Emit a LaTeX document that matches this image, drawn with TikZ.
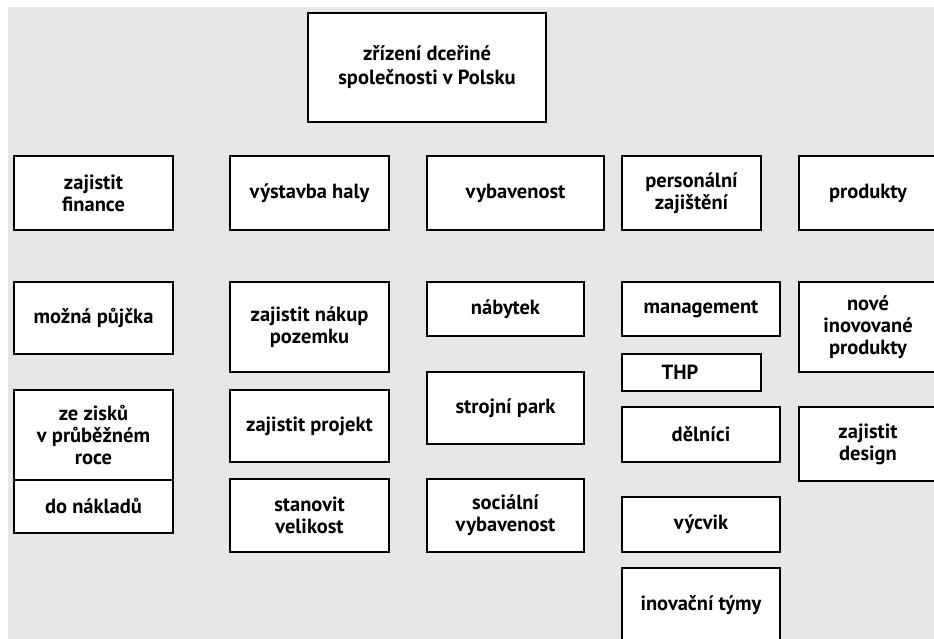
\documentclass[tikz,border=0pt]{standalone}
\usepackage{fontspec}
\setmainfont{PT Sans}
\definecolor{bggray}{RGB}{231,231,231}
\tikzset{every picture/.style={line width=0.75pt}}
\tikzset{
  box/.style={draw, fill=white, line width=2.2pt, align=center, inner sep=0pt,
    font=\fontsize{20.5}{22}\selectfont\bfseries},
}

\begin{document}
\begin{tikzpicture}[x=1pt,y=1pt,yscale=-1]
\useasboundingbox (0,0) rectangle (934,639);
\clip (0,0) rectangle (934,639);

%Background
\fill[bggray] (8,7) rectangle (940,645);

%Top box
\node[box, minimum width=238pt, minimum height=109pt, font=\fontsize{20.5}{24}\selectfont\bfseries] (zrizeni) at (427,67.5) {zřízení dceřiné\\společnosti v Polsku};

%Row 1
\node[box, minimum width=159pt, minimum height=74pt] (finance) at (93.5,193) {zajistit\\finance};
\node[box, minimum width=159pt, minimum height=74pt] (hala) at (309.5,193) {výstavba haly};
\node[box, minimum width=177pt, minimum height=74pt] (vybavenost) at (515.5,193) {vybavenost};
\node[box, minimum width=139pt, minimum height=74pt] (personal) at (691.5,193) {personální\\zajištění};
\node[box, minimum width=138pt, minimum height=74pt] (produkty) at (868,193) {produkty};

%Column: finance
\node[box, minimum width=159pt, minimum height=72pt] (pujcka) at (93.5,318) {možná půjčka};
\node[box, minimum width=159pt, minimum height=90pt] (zisky) at (93.5,435) {ze zisků\\v průběžném\\roce};
\node[box, minimum width=159pt, minimum height=53pt] (naklady) at (93.5,506.5) {do nákladů};

%Column: hala
\node[box, minimum width=159pt, minimum height=90pt] (pozemek) at (309.5,327) {zajistit nákup\\pozemku};
\node[box, minimum width=159pt, minimum height=72pt] (projekt) at (309.5,426) {zajistit projekt};
\node[box, minimum width=159pt, minimum height=73pt] (velikost) at (309.5,515.5) {stanovit\\velikost};

%Column: vybavenost
\node[box, minimum width=157pt, minimum height=54pt] (nabytek) at (505.5,309) {nábytek};
\node[box, minimum width=157pt, minimum height=72pt] (stroje) at (505.5,408) {strojní park};
\node[box, minimum width=157pt, minimum height=73pt] (socialni) at (505.5,515.5) {sociální\\vybavenost};

%Column: personal
\node[box, minimum width=158pt, minimum height=54pt] (management) at (701,309) {management};
\node[box, minimum width=139pt, minimum height=37pt] (thp) at (691.5,372.5) {THP\hspace*{23pt}};
\node[box, minimum width=158pt, minimum height=55pt] (delnici) at (701,434.5) {dělníci};
\node[box, minimum width=158pt, minimum height=55pt] (vycvik) at (701,524.5) {výcvik};
\node[box, minimum width=158pt, minimum height=74pt] (tymy) at (701,605) {inovační týmy};

%Column: produkty
\node[box, minimum width=138pt, minimum height=90pt] (nove) at (868,327) {nové\\inovované\\produkty};
\node[box, minimum width=138pt, minimum height=74pt] (design) at (868,444) {zajistit\\design};

\end{tikzpicture}
\end{document}
